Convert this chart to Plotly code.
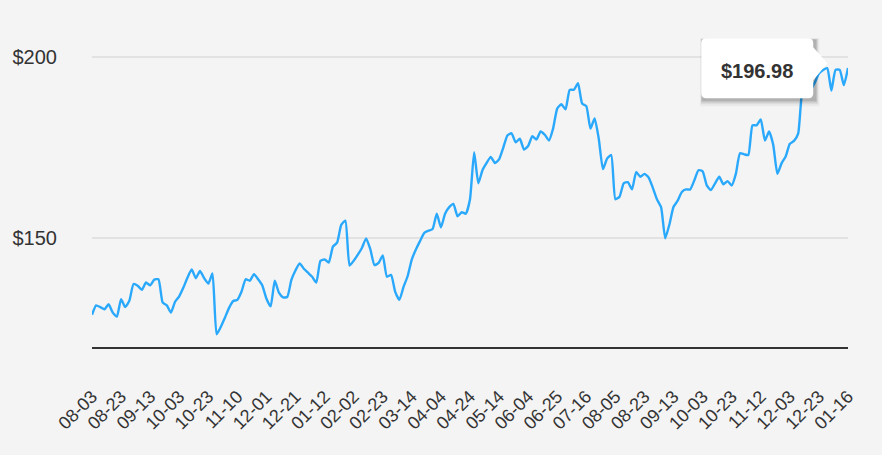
import plotly.graph_objects as go

# Price series (evenly spaced samples, ~every 2 trading days)
prices = [
    128.9, 131.5, 131.0, 130.4, 131.8, 129.5, 128.4, 133.2, 131.0, 132.8,
    137.4, 136.9, 135.8, 137.8, 137.0, 138.6, 138.7, 132.3, 131.5, 129.5,
    132.5, 134.0, 136.4, 139.2, 141.4, 139.0, 141.0, 139.0, 137.5, 140.3,
    123.5, 125.5, 128.1, 130.8, 132.7, 133.0, 135.3, 138.7, 138.3, 140.1,
    138.7, 137.0, 133.3, 131.2, 138.3, 135.0, 133.7, 133.8, 138.5, 141.2,
    143.1, 141.6, 140.5, 139.4, 137.8, 143.8, 144.2, 143.3, 147.7, 148.8,
    153.7, 154.9, 142.5, 143.8, 145.5, 147.4, 150.0, 147.0, 142.6, 143.2,
    145.3, 139.4, 139.9, 135.2, 133.0, 136.6, 139.6, 144.2, 147.0, 149.3,
    151.5, 152.1, 152.6, 156.8, 153.0, 156.8, 158.6, 159.5, 156.1, 157.2,
    156.8, 160.8, 173.8, 165.2, 168.8, 170.8, 172.5, 170.8, 171.8, 175.0,
    178.4, 179.0, 176.5, 177.5, 174.5, 175.5, 178.2, 177.3, 179.5, 178.6,
    177.0, 180.3, 185.8, 187.0, 185.6, 191.0, 191.0, 192.8, 187.2, 186.5,
    180.3, 183.1, 177.5, 169.1, 172.0, 173.0, 160.8, 161.5, 165.2, 165.5,
    163.5, 168.3, 167.0, 167.8, 166.8, 164.0, 160.8, 158.6, 150.0, 153.8,
    158.7, 160.4, 162.8, 163.5, 163.5, 166.0, 168.8, 168.5, 164.6, 163.3,
    165.2, 167.0, 164.9, 165.8, 164.6, 167.8, 173.5, 173.2, 173.0, 181.2,
    181.2, 182.8, 177.0, 179.5, 175.8, 167.8, 170.7, 172.6, 176.1, 176.9,
    178.9, 190.5, 192.0, 191.0, 193.0, 195.5, 196.5, 196.98, 190.8, 196.5,
    196.5, 192.3, 197.0,
]

tick_labels = [
    "08-03", "08-23", "09-13", "10-03", "10-23", "11-10", "12-01", "12-21",
    "01-12", "02-02", "02-23", "03-14", "04-04", "04-24", "05-14", "06-04",
    "06-25", "07-16", "08-05", "08-23", "09-13", "10-03", "10-23", "11-12",
    "12-03", "12-23", "01-16",
]
y_ticks = [150, 200]
y_tick_labels = ["$150", "$200"]

tooltip_index = 177
tooltip_text = "$196.98"

n = len(prices)
xs = list(range(n))
step = (n - 1) // (len(tick_labels) - 1)
tick_positions = [i * step for i in range(len(tick_labels))]

fig = go.Figure()
fig.add_trace(go.Scatter(
    x=xs, y=prices, mode="lines",
    line=dict(color="#2aa9fc", width=2.4, shape="spline", smoothing=0.5),
    hoverinfo="skip", showlegend=False,
))

# Tooltip callout (pixel geometry anchored at the hovered data point)
Lp, Rp, Tp, Bp, r = -126, -14, 30, -30, 5
box_path = (
    f"M {Lp + r},{Tp} L {Rp - r},{Tp} Q {Rp},{Tp} {Rp},{Tp - r} "
    f"L {Rp},21 L 0,5 L {Rp},-12 "
    f"L {Rp},{Bp + r} Q {Rp},{Bp} {Rp - r},{Bp} "
    f"L {Lp + r},{Bp} Q {Lp},{Bp} {Lp},{Bp + r} "
    f"L {Lp},{Tp - r} Q {Lp},{Tp} {Lp + r},{Tp} Z"
)
shapes = []
for k, op in [(7, 0.04), (5, 0.06), (3.5, 0.08), (2, 0.12)]:
    shapes.append(dict(
        type="rect", xref="x", yref="y",
        xsizemode="pixel", ysizemode="pixel",
        xanchor=tooltip_index, yanchor=prices[tooltip_index],
        x0=Lp + 1 - k * 0.3, x1=Rp + 2 + k * 0.6,
        y0=Bp - 1 - k, y1=Tp - 2 + k * 0.3,
        fillcolor=f"rgba(0,0,0,{op})", line=dict(width=0),
        layer="above",
    ))
shapes.append(dict(
    type="path", xref="x", yref="y",
    xsizemode="pixel", ysizemode="pixel",
    xanchor=tooltip_index, yanchor=prices[tooltip_index],
    path=box_path, fillcolor="#ffffff", line=dict(width=0),
    layer="above",
))

fig.update_layout(
    width=882, height=455,
    margin=dict(l=92, r=34, t=21, b=108),
    paper_bgcolor="#f4f4f4", plot_bgcolor="#f4f4f4",
    font=dict(family="Arial, Liberation Sans, sans-serif", color="#333333"),
    hovermode=False,
    shapes=shapes,
    annotations=[dict(
        x=tooltip_index, y=prices[tooltip_index], xref="x", yref="y",
        text=f"<b>{tooltip_text}</b>", showarrow=False,
        xanchor="center", yanchor="middle", xshift=-70, yshift=-3,
        font=dict(size=20, color="#333333"),
    )],
    xaxis=dict(
        range=[0, n - 1], showgrid=False, zeroline=False,
        tickmode="array", tickvals=tick_positions, ticktext=tick_labels,
        tickangle=-45, tickfont=dict(size=18, color="#333333"),
        showline=True, linecolor="#333333", linewidth=2,
        ticks="", ticklabelstandoff=30,
    ),
    yaxis=dict(
        range=[120, 210], tickmode="array", tickvals=y_ticks,
        ticktext=y_tick_labels, tickfont=dict(size=20, color="#333333"),
        showgrid=True, gridcolor="#e2e2e2", gridwidth=2,
        zeroline=False, showline=False, ticks="", ticklabelstandoff=34,
    ),
)

fig.write_html("out.html", config={"displayModeBar": False})
